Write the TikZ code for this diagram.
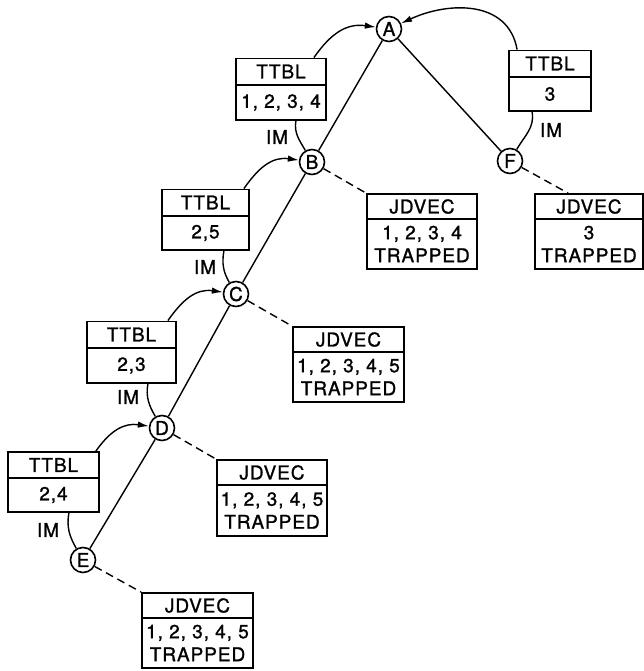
\documentclass[tikz,border=0pt]{standalone}
\usepackage{fontspec}
\setmainfont[LetterSpace=5,FakeBold=1.2]{TeX Gyre Heros}
\usetikzlibrary{arrows.meta}
\begin{document}
\begin{tikzpicture}[x=1pt,y=1pt,
  every node/.style={font=\fontsize{19}{23}\selectfont},
  circ/.style={circle,draw,line width=1.6pt,minimum size=25pt,inner sep=0pt},
  hbox/.style={draw,line width=1.8pt,minimum height=26pt,inner sep=0pt},
  bbox/.style={draw,line width=1.8pt,inner sep=0pt,align=center},
  edge/.style={line width=1.4pt},
  dsh/.style={line width=1.4pt,dash pattern=on 8pt off 5pt},
  arr/.style={line width=1.4pt,-{Latex[length=11pt,width=6.5pt]}},
  lbl/.style={inner sep=0pt}
]
\useasboundingbox (0,0) rectangle (644,-671);
% circles
\node[circ] (A) at (389,-29) {A};
\node[circ] (B) at (312,-162) {B};
\node[circ] (C) at (236,-294) {C};
\node[circ] (D) at (162,-428) {D};
\node[circ] (E) at (83,-560) {E};
\node[circ] (F) at (510,-161) {F};
% TTBL boxes
\node[hbox,minimum width=90pt] (tB) at (281,-71.5) {TTBL};
\node[bbox,minimum width=90pt,minimum height=35pt] (nB) at (281,-102.5) {1, 2, 3, 4};
\node[hbox,minimum width=82pt] (tF) at (550,-63.5) {TTBL};
\node[bbox,minimum width=82pt,minimum height=34pt] (nF) at (550,-94) {3};
\node[hbox,minimum width=87pt] (tC) at (205.5,-202.5) {TTBL};
\node[bbox,minimum width=87pt,minimum height=34pt] (nC) at (205.5,-233) {2,5};
\node[hbox,minimum width=89pt] (tD) at (131.5,-334.5) {TTBL};
\node[bbox,minimum width=89pt,minimum height=35pt] (nD) at (131.5,-365.5) {2,3};
\node[hbox,minimum width=91pt] (tE) at (53.5,-465) {TTBL};
\node[bbox,minimum width=91pt,minimum height=34pt] (nE) at (53.5,-495) {2,4};
% JDVEC boxes
\node[hbox,minimum width=110pt,minimum height=25pt] (jBh) at (422,-206.5) {JDVEC};
\node[bbox,minimum width=110pt,minimum height=50pt] (jBb) at (422,-244) {1, 2, 3, 4\\TRAPPED};
\node[hbox,minimum width=108pt,minimum height=25pt] (jFh) at (589,-206.5) {JDVEC};
\node[bbox,minimum width=108pt,minimum height=50pt] (jFb) at (589,-244) {3\\TRAPPED};
\node[hbox,minimum width=111pt,minimum height=25pt] (jCh) at (348.5,-339.5) {JDVEC};
\node[bbox,minimum width=111pt,minimum height=50pt] (jCb) at (348.5,-377) {1, 2, 3, 4, 5\\TRAPPED};
\node[hbox,minimum width=110pt,minimum height=25pt] (jDh) at (272,-472.5) {JDVEC};
\node[bbox,minimum width=110pt,minimum height=51pt] (jDb) at (272,-510.5) {1, 2, 3, 4, 5\\TRAPPED};
\node[hbox,minimum width=111pt,minimum height=25pt] (jEh) at (197.5,-605.5) {JDVEC};
\node[bbox,minimum width=111pt,minimum height=50pt] (jEb) at (197.5,-643) {1, 2, 3, 4, 5\\TRAPPED};
% IM labels
\node[lbl] (imB) at (277,-137) {IM};
\node[lbl] (imC) at (205,-267) {IM};
\node[lbl] (imD) at (128,-397) {IM};
\node[lbl] (imE) at (48,-530) {IM};
\node[lbl] (imF) at (551,-130) {IM};
% tree edges
\draw[edge] (A) -- (B);
\draw[edge] (B) -- (C);
\draw[edge] (C) -- (D);
\draw[edge] (D) -- (E);
\draw[edge] (A) -- (F);
% arrows from TTBL to parent
\draw[arr] ([xshift=-13pt]tB.north east) to[out=55,in=172,looseness=1.1] (A);
\draw[arr] ([xshift=9pt]tF.north west) to[out=100,in=25,looseness=1.1] (A);
\draw[arr] ([xshift=-6pt]tC.north east) to[out=55,in=172,looseness=1.1] (B);
\draw[arr] ([xshift=-9pt]tD.north east) to[out=55,in=172,looseness=1.1] (C);
\draw[arr] ([xshift=-4pt]tE.north east) to[out=55,in=172,looseness=1.1] (D);
% IM curves
\draw[edge] ([xshift=-31pt]nB.south east) to[out=-100,in=120] (B);
\draw[edge] ([xshift=-26pt]nC.south east) to[out=-100,in=120] (C);
\draw[edge] ([xshift=-29pt]nD.south east) to[out=-100,in=120] (D);
\draw[edge] ([xshift=-31pt]nE.south east) to[out=-100,in=120] (E);
\draw[edge] ([xshift=24pt]nF.south west) to[out=-80,in=60] (F);
% dashed links
\draw[dsh] (B) -- (jBh.north west);
\draw[dsh] (F) -- ([xshift=34pt]jFh.north west);
\draw[dsh] (C) -- (jCh.north west);
\draw[dsh] (D) -- (jDh.north west);
\draw[dsh] (E) -- (jEh.north west);
\end{tikzpicture}
\end{document}
